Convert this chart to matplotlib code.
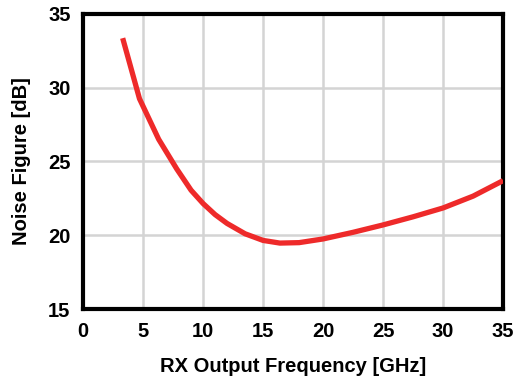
import matplotlib
matplotlib.use("Agg")
import matplotlib.pyplot as plt

# RX noise figure vs output frequency
freq_ghz = [3.3, 4.7, 6.3, 7.8, 9, 10, 11, 12, 13.5, 15, 16.4, 18, 20, 22.5, 25, 27.5,
            30, 32.5, 35]
noise_db = [33.35, 29.25, 26.5, 24.5, 23.05, 22.15, 21.4, 20.8, 20.1, 19.65, 19.47, 19.5,
            19.75, 20.2, 20.7, 21.25, 21.85, 22.65, 23.7]
x_ticks = [0, 5, 10, 15, 20, 25, 30, 35]
y_ticks = [15, 20, 25, 30, 35]

plt.rcParams["font.family"] = ["Liberation Sans", "DejaVu Sans"]
plt.rcParams["font.weight"] = "bold"

fig = plt.figure(figsize=(5.16, 3.83), dpi=100)
ax = fig.add_axes([0.161, 0.193, 0.814, 0.771])

ax.plot(freq_ghz, noise_db, color="#EE2A2A", linewidth=3.8, solid_capstyle="butt", zorder=3)

ax.set_xlim(0, 35)
ax.set_ylim(15, 35)
ax.set_xticks(x_ticks)
ax.set_yticks(y_ticks)
ax.grid(True, color="#D4D4D4", linewidth=1.8)
ax.set_axisbelow(True)
ax.tick_params(length=0, labelsize=14.5, pad=9)
for lab in ax.get_xticklabels() + ax.get_yticklabels():
    lab.set_fontweight("bold")
for s in ax.spines.values():
    s.set_linewidth(3)
    s.set_color("black")

ax.set_xlabel("RX Output Frequency [GHz]", fontsize=14.5, fontweight="bold", labelpad=12)
ax.set_ylabel("Noise Figure [dB]", fontsize=14.5, fontweight="bold", labelpad=12)

fig.savefig("out.png", dpi=100)
